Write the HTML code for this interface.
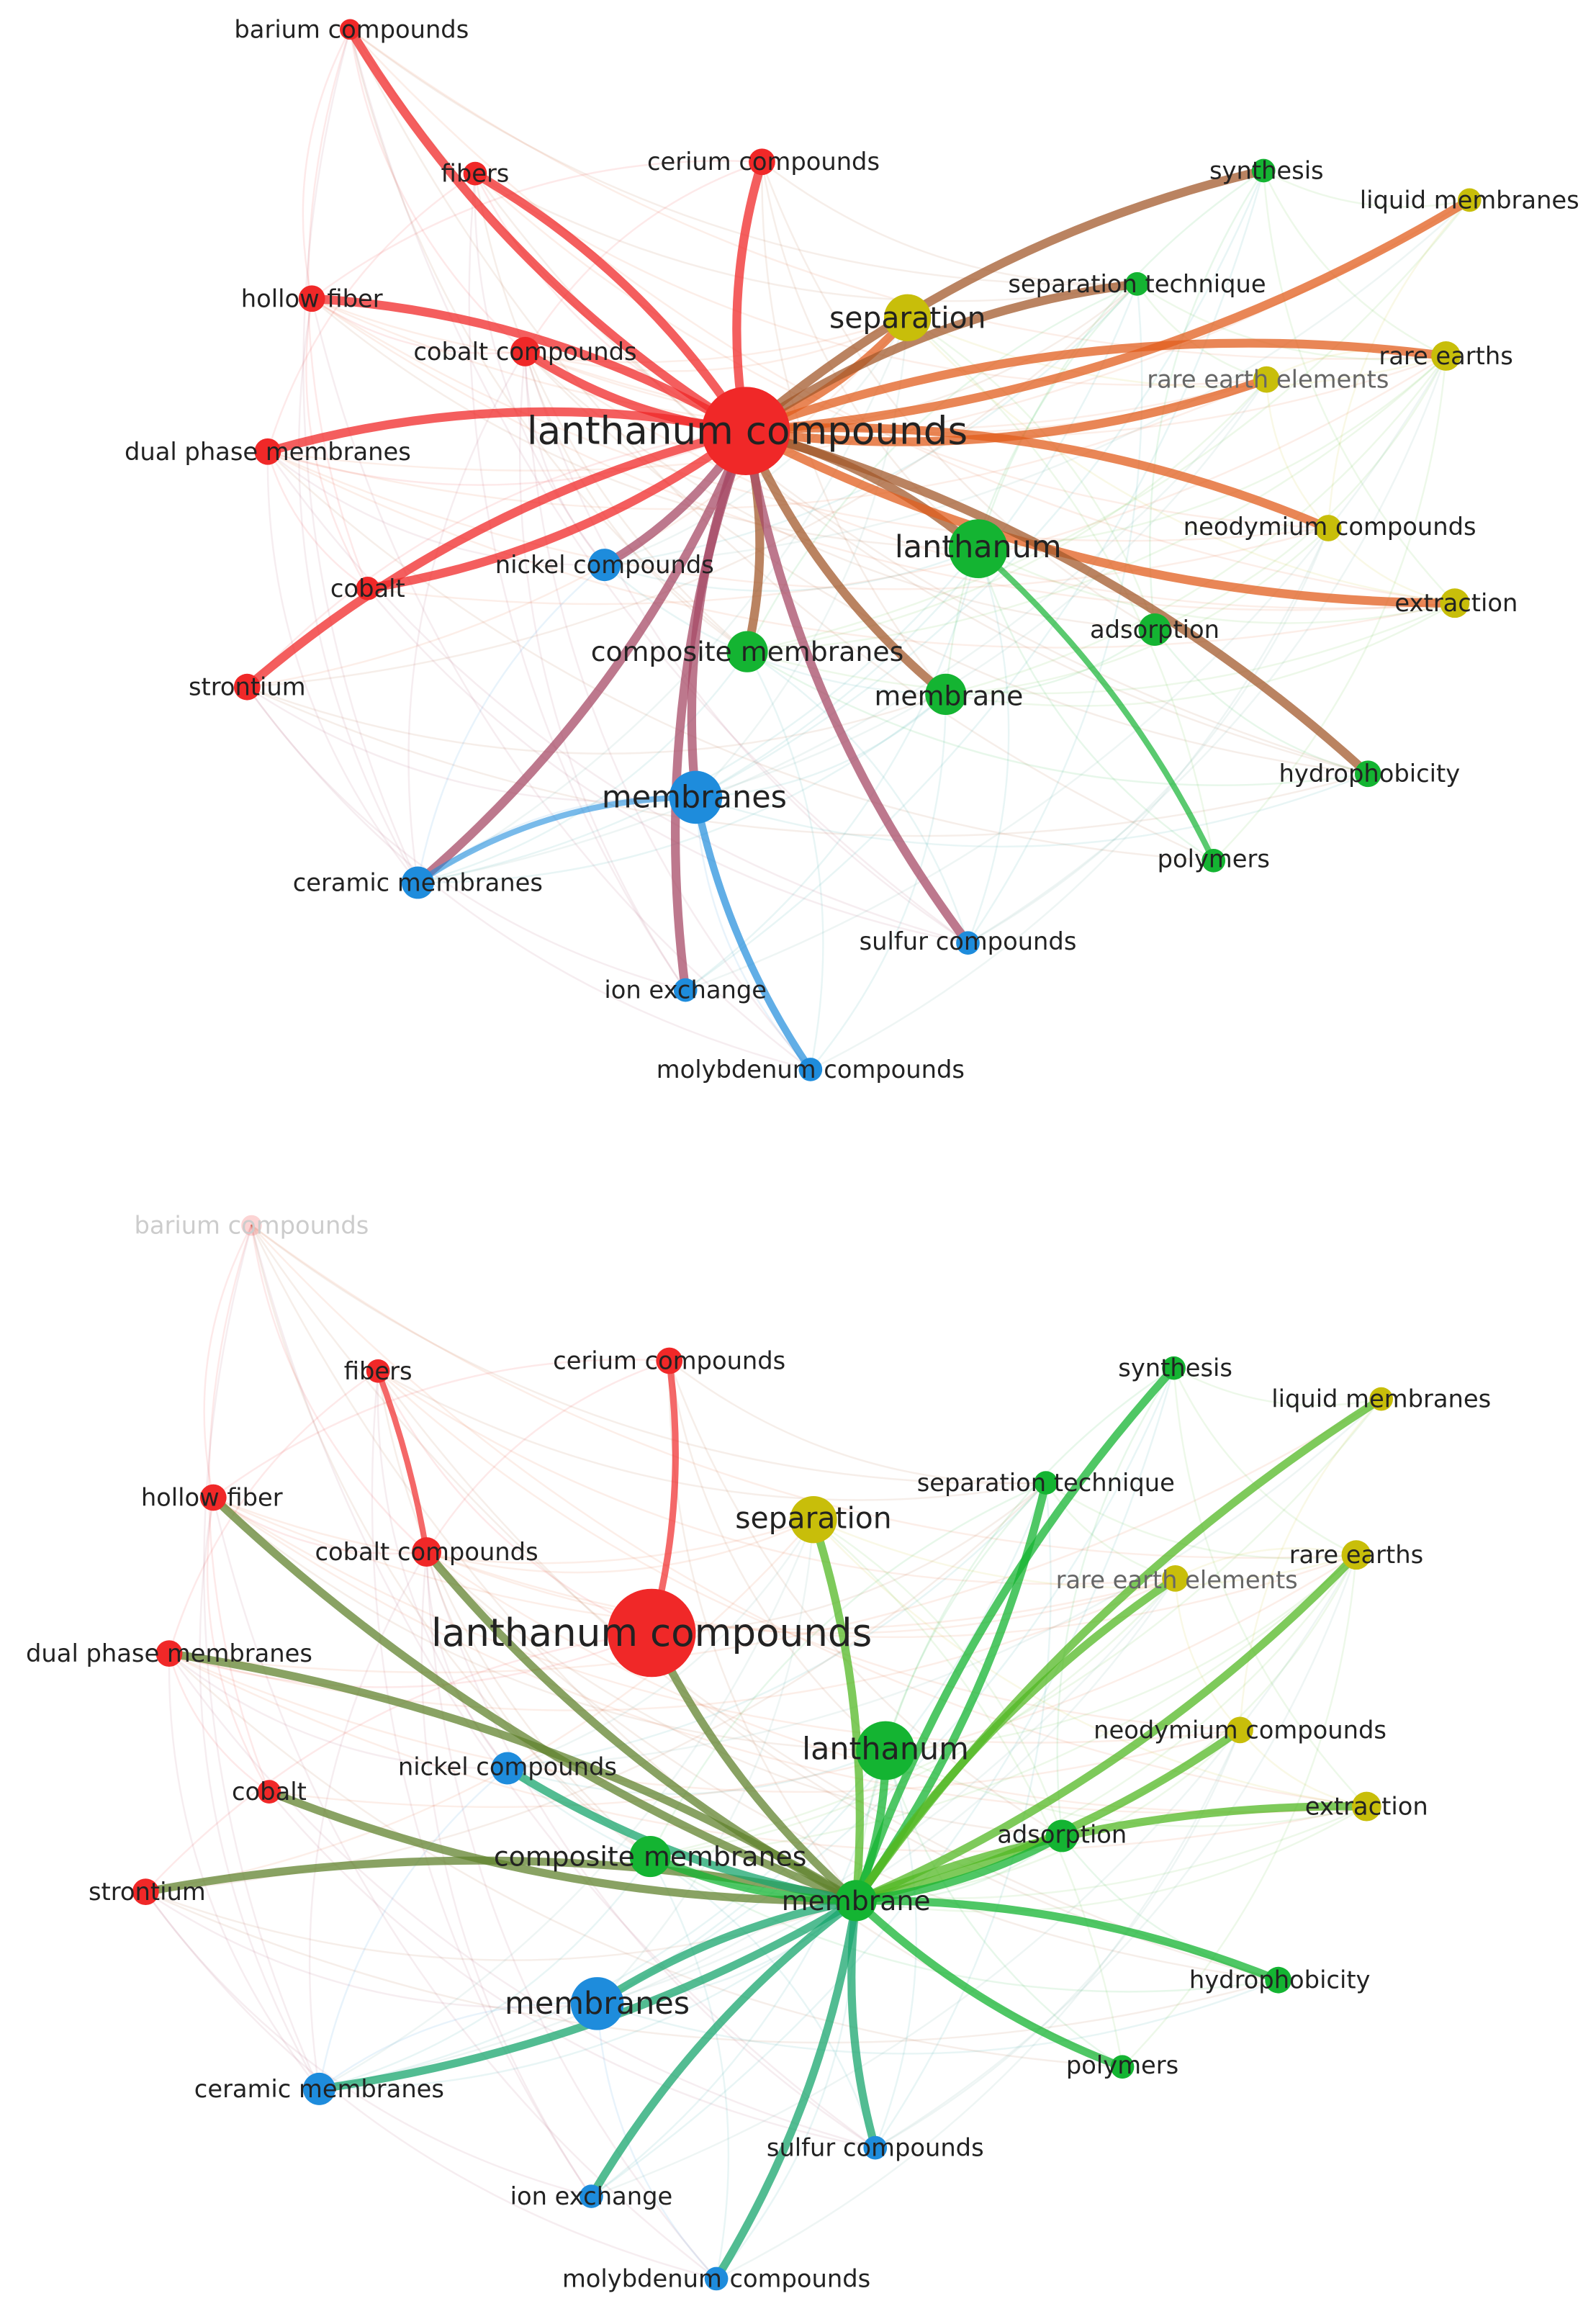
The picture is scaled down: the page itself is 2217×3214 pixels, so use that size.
<!DOCTYPE html>
<html><head><meta charset="utf-8"><style>
html,body{margin:0;padding:0;background:#fff;}
svg{display:block}
text{font-family:"DejaVu Sans","Liberation Sans",sans-serif;fill:#222;text-anchor:middle;dominant-baseline:central}
</style></head><body>
<svg id="s" width="2217" height="3214" viewBox="0 0 1085 1573" preserveAspectRatio="none" xmlns="http://www.w3.org/2000/svg">
<g id="web"></g><g id="thick"></g><g id="nodes"></g>
<g id="labels" font-size="16.5">
<text x="239" y="20">barium compounds</text>
<text x="323" y="118">fibers</text>
<text x="519" y="110">cerium compounds</text>
<text x="212" y="203">hollow fiber</text>
<text x="357" y="239">cobalt compounds</text>
<text x="182" y="307">dual phase membranes</text>
<text x="508" y="293" font-size="26">lanthanum compounds</text>
<text x="250" y="400">cobalt</text>
<text x="168" y="467">strontium</text>
<text x="411" y="384">nickel compounds</text>
<text x="472" y="542" font-size="21">membranes</text>
<text x="284" y="600">ceramic membranes</text>
<text x="466" y="673">ion exchange</text>
<text x="551" y="727">molybdenum compounds</text>
<text x="658" y="640">sulfur compounds</text>
<text x="861" y="116">synthesis</text>
<text x="773" y="193">separation technique</text>
<text x="665" y="372" font-size="21">lanthanum</text>
<text x="508" y="443" font-size="18.5">composite membranes</text>
<text x="645" y="473" font-size="18.5">membrane</text>
<text x="785" y="428">adsorption</text>
<text x="931" y="526">hydrophobicity</text>
<text x="825" y="584">polymers</text>
<text x="617" y="216" font-size="20">separation</text>
<text x="999" y="136">liquid membranes</text>
<text x="983" y="242">rare earths</text>
<text x="862" y="258" style="fill:#666">rare earth elements</text>
<text x="904" y="358">neodymium compounds</text>
<text x="990" y="410">extraction</text>

<text x="171" y="833" style="fill:#ccc">barium compounds</text>
<text x="257" y="932">fibers</text>
<text x="455" y="925">cerium compounds</text>
<text x="144" y="1018">hollow fiber</text>
<text x="290" y="1055">cobalt compounds</text>
<text x="115" y="1124">dual phase membranes</text>
<text x="443" y="1110" font-size="26">lanthanum compounds</text>
<text x="183" y="1218">cobalt</text>
<text x="100" y="1286">strontium</text>
<text x="345" y="1201">nickel compounds</text>
<text x="406" y="1362" font-size="21">membranes</text>
<text x="217" y="1420">ceramic membranes</text>
<text x="402" y="1493">ion exchange</text>
<text x="487" y="1549">molybdenum compounds</text>
<text x="595" y="1460">sulfur compounds</text>
<text x="799" y="930">synthesis</text>
<text x="711" y="1008">separation technique</text>
<text x="602" y="1189" font-size="21">lanthanum</text>
<text x="442" y="1262" font-size="18.5">composite membranes</text>
<text x="582" y="1292" font-size="18.5">membrane</text>
<text x="722" y="1247">adsorption</text>
<text x="870" y="1346">hydrophobicity</text>
<text x="763" y="1404">polymers</text>
<text x="553" y="1032" font-size="20">separation</text>
<text x="939" y="951">liquid membranes</text>
<text x="922" y="1057">rare earths</text>
<text x="800" y="1074" style="fill:#666">rare earth elements</text>
<text x="843" y="1176">neodymium compounds</text>
<text x="929" y="1228">extraction</text>
</g>
</svg>
<script>
(function(){
var C={r:[240,40,40],b:[30,140,220],g:[20,180,50],y:[200,190,10]};
var names=["barium","fibers","cerium","hollow","cobaltc","dual","LC","cobalt","stront","nickel","membranes","ceramic","ion","molyb","sulfur","synth","septech","lanth","comp","membrane","adsorp","hydro","poly","sep","liquid","rearths","ree","neo","extr"];
var col="rrrrrrrrrbbbbbbggggggggyyyyyy";
var rad=[7,8,9,9,10,9,30,8,9,11,18,11,8,8,8,8,8,20,14,14,11,9,8,16,8,10,9,9,10];
var P1=[[238,20],[323,118],[518,110],[212,203],[357,239],[182,307],[507,293],[250,400],[168,467],[411,384],[473,542],[284,600],[466,673],[551,727],[658,641],[859,116],[773,193],[665,373],[508,443],[643,472],[785,428],[930,526],[825,585],[617,216],[999,136],[983,242],[861,258],[903,359],[989,410]];
var P2=[[171,833],[257,932],[455,925],[145,1018],[290,1055],[115,1124],[443,1110],[183,1218],[99,1286],[345,1202],[406,1362],[217,1420],[402,1493],[487,1549],[595,1460],[798,930],[711,1008],[602,1190],[442,1262],[582,1292],[722,1248],[869,1346],[763,1405],[553,1033],[939,951],[922,1057],[799,1073],[843,1176],[929,1228]];
var NS="http://www.w3.org/2000/svg";
function I(n){return names.indexOf(n);}
function mix(a,b,t){var c1=C[col[a]],c2=C[col[b]];return "rgb("+[0,1,2].map(function(k){return Math.round(c1[k]*(1-t)+c2[k]*t)}).join(",")+")";}
function edge(g,P,a,b,w,op,bend){
 var A=P[a],B=P[b],dx=B[0]-A[0],dy=B[1]-A[1];
 var cx=(A[0]+B[0])/2-dy*bend,cy=(A[1]+B[1])/2+dx*bend;
 var p=document.createElementNS(NS,"path");
 p.setAttribute("d","M"+A[0]+","+A[1]+"Q"+cx+","+cy+" "+B[0]+","+B[1]);
 p.setAttribute("fill","none");p.setAttribute("stroke",mix(a,b,0.35));
 p.setAttribute("stroke-width",w);p.setAttribute("stroke-opacity",op);p.setAttribute("stroke-linecap","round");
 g.appendChild(p);
}
var web=document.getElementById("web"),thick=document.getElementById("thick"),nodes=document.getElementById("nodes");
[P1,P2].forEach(function(P){
 var s=7;
 for(var i=0;i<29;i++)for(var j=i+1;j<29;j++){
  s=(s*9301+49297)%233280; if(s/233280<0.3) edge(web,P,i,j,1.2,0.1,0.18);
 }
});
var topE=["barium","fibers","cerium","hollow","cobaltc","dual","cobalt","stront","nickel","membranes","ceramic","ion","comp","membrane","lanth","sep","synth","liquid","rearths","ree","neo","extr","hydro","sulfur","septech"];
topE.forEach(function(n,k){edge(thick,P1,I("LC"),I(n),6,0.75,(k%2?0.12:-0.12));});
edge(thick,P1,I("membranes"),I("molyb"),5,0.7,0.1);
edge(thick,P1,I("lanth"),I("poly"),4,0.7,-0.1);
edge(thick,P1,I("membranes"),I("ceramic"),4,0.6,0.15);
var botE=["hollow","dual","cobalt","stront","nickel","membranes","ceramic","ion","molyb","sulfur","comp","lanth","LC","sep","synth","septech","liquid","rearths","ree","neo","extr","adsorp","hydro","poly","cobaltc"];
botE.forEach(function(n,k){edge(thick,P2,I("membrane"),I(n),5.5,0.75,(k%2?0.1:-0.1));});
edge(thick,P2,I("LC"),I("cerium"),4.5,0.7,0.1);
edge(thick,P2,I("cobaltc"),I("fibers"),4,0.7,0.05);
[P1,P2].forEach(function(P,gi){
 P.forEach(function(p,i){
  var c=document.createElementNS(NS,"circle");
  c.setAttribute("cx",p[0]);c.setAttribute("cy",p[1]);c.setAttribute("r",rad[i]);
  var cc=C[col[i]];c.setAttribute("fill","rgb("+cc.join(",")+")");
  if(gi==1&&i==0)c.setAttribute("fill-opacity","0.2");
  nodes.appendChild(c);
 });
});
})();
</script>
</body></html>
